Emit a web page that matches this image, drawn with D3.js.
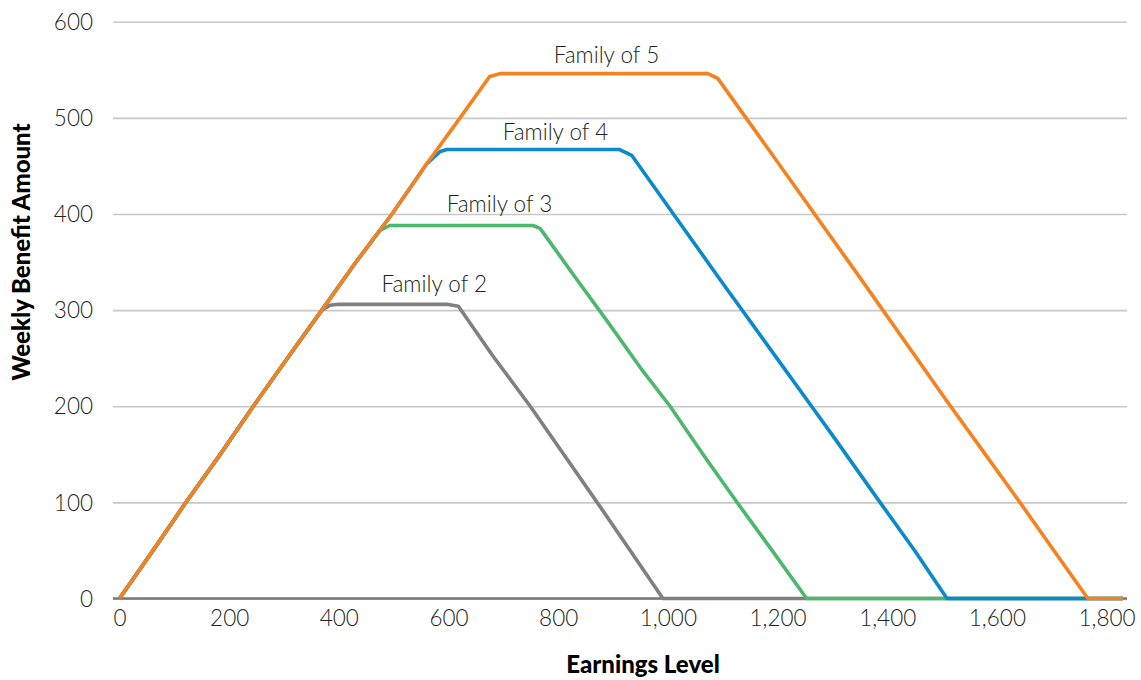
<!DOCTYPE html>
<html>
<head>
<meta charset="utf-8">
<script src="https://cdn.jsdelivr.net/npm/d3@7"></script>
<style>
  html, body { margin: 0; padding: 0; background: #fff; }
  svg { display: block; }
  svg text { font-family: Lato, "Open Sans", sans-serif; }
</style>
</head>
<body>
<svg id="chart" width="1141" height="680"></svg>
<script>
// ---- data ----
const xTicks = [0, 200, 400, 600, 800, 1000, 1200, 1400, 1600, 1800];
const yTicks = [0, 100, 200, 300, 400, 500, 600];

const seriesNames = ["Family of 2", "Family of 3", "Family of 4", "Family of 5"];

const fam2Earn = [0, 60, 120, 185, 244, 310, 369, 384, 400, 597, 618, 680, 749, 810, 871, 930, 991, 1830];
const fam2Val  = [0, 49, 99, 151, 200, 253, 300, 305, 306, 306, 304, 253, 200, 150, 100, 51, 0, 0];

const fam3Earn = [0, 60, 120, 185, 244, 310, 369, 430, 475, 493, 754, 767, 830, 890, 950, 1004, 1070, 1130, 1190, 1253, 1830];
const fam3Val  = [0, 49, 99, 151, 200, 253, 300, 349, 383, 388, 388, 385, 335, 288, 240, 200, 145, 97, 50, 0, 0];

const fam4Earn = [0, 60, 120, 185, 244, 310, 369, 430, 497, 560, 585, 597, 912, 934, 1000, 1100, 1200, 1262, 1300, 1387, 1450, 1509, 1830];
const fam4Val  = [0, 49, 99, 151, 200, 253, 300, 349, 400, 452, 465, 467, 467, 461, 408, 328, 249, 200, 170, 100, 50, 0, 0];

const fam5Earn = [0, 60, 120, 185, 244, 310, 369, 430, 497, 560, 621, 675, 694, 1073, 1091, 1150, 1250, 1350, 1450, 1508, 1575, 1642, 1700, 1766, 1830];
const fam5Val  = [0, 49, 99, 151, 200, 253, 300, 349, 400, 452, 500, 543, 546, 546, 541, 494, 414, 334, 253, 206, 153, 100, 53, 0, 0];

// label anchor points (earnings, benefit) for the series labels
const labelEarn = [574, 693, 795, 888];
const labelVal  = [319, 402, 477, 557];

// ---- styling ----
const colors = ["#808080", "#4cb86b", "#0a8acb", "#f58220"];

const svg = d3.select("#chart");
const plotLeft = 113, plotRight = 1127;

const x = d3.scaleLinear().domain([0, 1830]).range([119.5, 1123]);
const y = d3.scaleLinear().domain([0, 600]).range([598.5, 21.7]);

// gridlines + y labels
const yAxis = d3.axisLeft(y)
  .tickValues(yTicks)
  .tickSize(-(plotRight - plotLeft))
  .tickPadding(20)
  .tickFormat(d3.format("d"));
const gy = svg.append("g").attr("transform", `translate(${plotLeft},0)`).call(yAxis);
gy.attr("font-family", null).attr("font-size", null);
gy.select(".domain").remove();
gy.selectAll(".tick line").attr("stroke", "#c8c8c8").attr("stroke-width", 1.6);
gy.selectAll(".tick text")
  .attr("fill", "#231f20")
  .style("font-size", "22.5px")
  .style("font-weight", 300)
  .attr("dy", "0.34em");

// baseline
svg.append("line")
  .attr("x1", plotLeft).attr("x2", plotRight)
  .attr("y1", y(0)).attr("y2", y(0))
  .attr("stroke", "#777").attr("stroke-width", 2.5);

// x axis labels
const xAxis = d3.axisBottom(x)
  .tickValues(xTicks)
  .tickSize(0)
  .tickPadding(12)
  .tickFormat(d3.format(","));
const gx = svg.append("g").attr("transform", `translate(0,${y(0)})`).call(xAxis);
gx.attr("font-family", null).attr("font-size", null);
gx.select(".domain").remove();
gx.selectAll(".tick text")
  .attr("fill", "#231f20")
  .style("font-size", "22.5px")
  .style("font-weight", 300);

// series
const allEarn = [fam2Earn, fam3Earn, fam4Earn, fam5Earn];
const allVal = [fam2Val, fam3Val, fam4Val, fam5Val];
const line = d3.line().x(d => x(d[0])).y(d => y(d[1]));

allEarn.forEach((earn, i) => {
  const pts = earn.map((e, j) => [e, allVal[i][j]]);
  svg.append("path")
    .datum(pts)
    .attr("d", line)
    .attr("fill", "none")
    .attr("stroke", colors[i])
    .attr("stroke-width", 3.6)
    .attr("stroke-linejoin", "round")
    .attr("stroke-linecap", "butt");
});

// series labels
seriesNames.forEach((name, i) => {
  svg.append("text")
    .attr("x", x(labelEarn[i]))
    .attr("y", y(labelVal[i]))
    .attr("text-anchor", "middle")
    .attr("fill", "#231f20")
    .style("font-size", "22.5px")
    .style("font-weight", 300)
    .text(name);
});

// axis titles
svg.append("text")
  .attr("x", 643)
  .attr("y", 673)
  .attr("text-anchor", "middle")
  .attr("fill", "#000")
  .style("font-size", "24px")
  .style("font-weight", 900)
  .text("Earnings Level");

svg.append("text")
  .attr("transform", "translate(30,252) rotate(-90)")
  .attr("text-anchor", "middle")
  .attr("fill", "#000")
  .style("font-size", "24px")
  .style("font-weight", 900)
  .text("Weekly Benefit Amount");
</script>
</body>
</html>
